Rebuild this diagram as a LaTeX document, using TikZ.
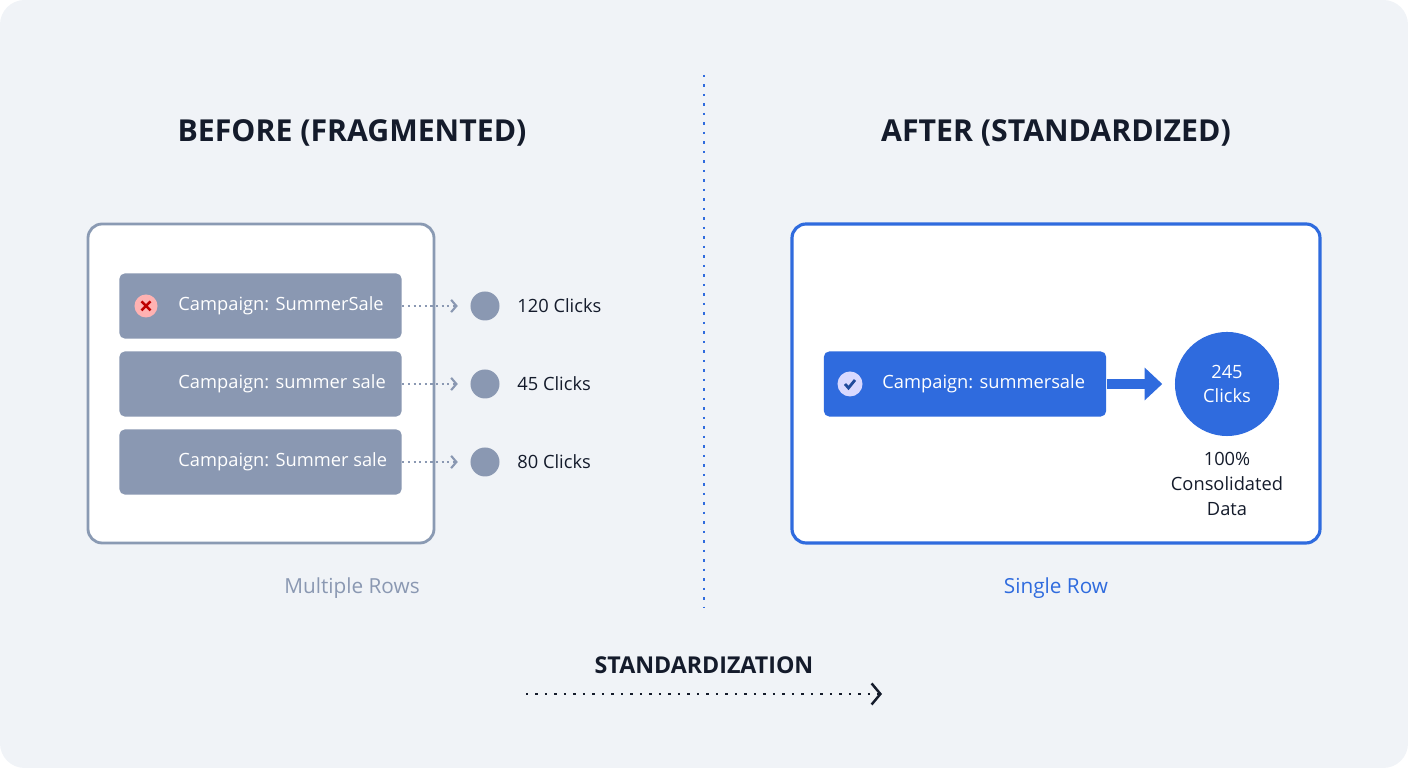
\documentclass[tikz,border=0pt]{standalone}
\usepackage{fontspec}
\setmainfont{Open Sans}
\usetikzlibrary{arrows.meta}
\definecolor{bgc}{HTML}{F0F3F7}
\definecolor{slate}{HTML}{8A98B2}
\definecolor{slateline}{HTML}{8A9AB3}
\definecolor{brand}{HTML}{2F6BDE}
\definecolor{ink}{HTML}{141B2B}
\tikzset{
  title/.style={font=\fontsize{8.6}{10}\selectfont\bfseries, text=ink},
  row/.style={rounded corners=1.5pt, minimum width=2.82cm, minimum height=0.65cm, inner sep=0pt},
  rowtext/.style={font=\fontsize{5.2}{6.4}\selectfont, text=white, anchor=west},
  dot/.style={circle, fill=slate, minimum size=0.29cm, inner sep=0pt},
  clicks/.style={font=\fontsize{5.2}{6.4}\selectfont, text=ink, anchor=west},
  link/.style={slate, densely dotted, line width=0.6pt, -{Straight Barb[length=1.5pt,width=3.5pt]}},
}
\begin{document}
\begin{tikzpicture}[x=0.01cm, y=-0.01cm]
  \useasboundingbox (0,0) rectangle (1408,768);
  \fill[bgc, rounded corners=7pt] (0,0) rectangle (1408,768);
  % divider
  \draw[brand, dotted, line width=0.7pt] (704,75) -- (704,608);
  \node[title] (tl) at (352,133) {BEFORE (FRAGMENTED)};
  \node[title] (tr) at (1056,133) {AFTER (STANDARDIZED)};
  % before
  \draw[slateline, fill=white, line width=0.8pt, rounded corners=4pt] (88,224) rectangle (434,543);
  \foreach \y/\txt/\n [count=\i] in {306/{Campaign: SummerSale}/{120 Clicks},
      384/{Campaign: summer sale}/{45 Clicks}, 462/{Campaign: Summer sale}/{80 Clicks}} {
    \node[row, fill=slate] (r\i) at (260.5,\y) {};
    \node[rowtext] (t\i) at (166,\y) {\txt};
    \node[dot] (d\i) at (485,\y) {};
    \node[clicks] (c\i) at (505,\y) {\n};
    \draw[link] (r\i.east) -- ([xshift=-0.12cm]d\i.west);
  }
  \node[circle, fill=red!30!white, minimum size=0.23cm, inner sep=0pt] (x) at (146,306) {};
  \draw[red!75!black, line width=0.7pt] ([shift={(-4.5,-4.5)}]x.center) -- ([shift={(4.5,4.5)}]x.center)
    ([shift={(-4.5,4.5)}]x.center) -- ([shift={(4.5,-4.5)}]x.center);
  \node[font=\fontsize{5.9}{7}\selectfont, text=slate] (mr) at (352,588) {Multiple Rows};
  % after
  \draw[brand, fill=white, line width=0.9pt, rounded corners=4pt] (792,224) rectangle (1320,543);
  \node[row, fill=brand] (sr) at (965,384) {};
  \node[rowtext] (st) at (870,384) {Campaign: summersale};
  \node[circle, fill=blue!15!white, minimum size=0.25cm, inner sep=0pt] (ok) at (850,384) {};
  \draw[brand!70!black, line width=0.8pt] ([shift={(-5,0)}]ok.center) -- ([shift={(-1.5,4)}]ok.center) -- ([shift={(5,-4)}]ok.center);
  \node[circle, fill=brand, minimum size=1.04cm, inner sep=0pt, align=center,
    font=\fontsize{5.2}{7}\selectfont, text=white] (tot) at (1227,384) {245\\Clicks};
  \draw[brand, line width=2.8pt, -{Triangle[length=5pt,width=9pt]}] (sr.east) -- ([xshift=-0.12cm]tot.west);
  \node[align=center, font=\fontsize{5.2}{7}\selectfont, text=ink] (cd) at (1227,484) {100\%\\Consolidated\\Data};
  \node[font=\fontsize{5.9}{7}\selectfont, text=brand] (sg) at (1056,588) {Single Row};
  % bottom
  \node[font=\fontsize{6.6}{8}\selectfont\bfseries, text=ink] (std) at (704,665) {STANDARDIZATION};
  \coordinate (a0) at (526,694);
  \coordinate (a1) at (882,694);
  \draw[ink, dotted, line width=0.7pt, -{Straight Barb[length=2.5pt,width=6pt]}] (a0) -- (a1);
\end{tikzpicture}
\end{document}
